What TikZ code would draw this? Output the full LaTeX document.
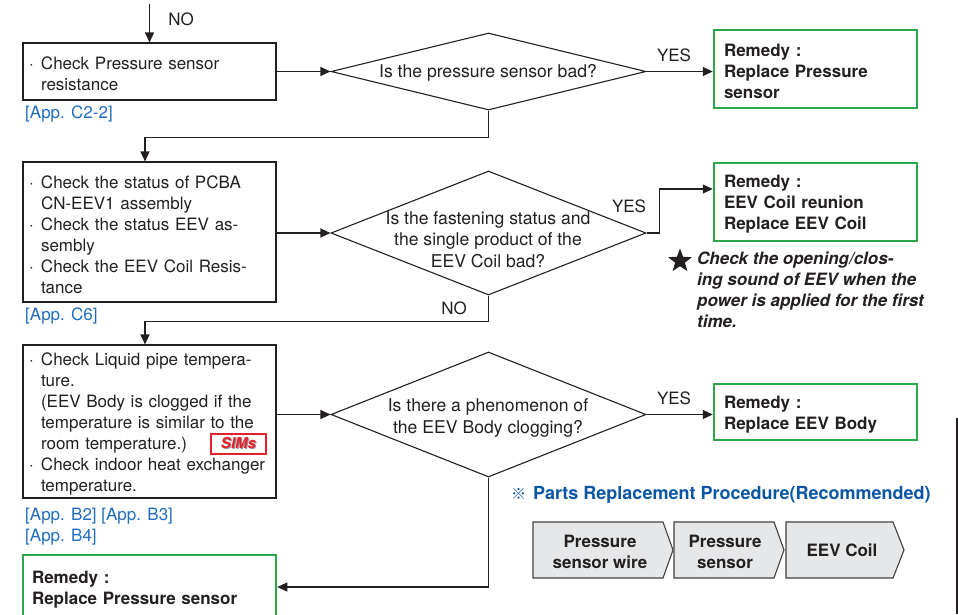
\documentclass[tikz,border=0pt]{standalone}
\usepackage{fontspec}
\setmainfont{TeX Gyre Heros}
\newfontfamily\cjkf{Noto Sans CJK SC}
\usetikzlibrary{arrows.meta,shapes.geometric}
\definecolor{ink}{HTML}{231F20}
\definecolor{grn}{HTML}{2BA84A}
\definecolor{lnk}{HTML}{1F6DBE}
\definecolor{hdb}{HTML}{0A56A5}
\definecolor{simred}{HTML}{E3212B}
\definecolor{chev}{HTML}{E6E7E8}
\newcommand{\bl}{\makebox[12pt][l]{·}}
\newcommand{\ind}{\hspace*{12pt}}
\newcommand{\lowr}{\rule{0pt}{17.5pt}}
\begin{document}
\begin{tikzpicture}[x=1pt,y=-1pt,
  every node/.style={font=\fontsize{17}{21}\selectfont, text=ink},
  box/.style={draw=ink, line width=1.1pt, rectangle, inner xsep=6pt, inner ysep=0pt, text width=241pt, align=left, execute at begin node=\lowr},
  remedy/.style={draw=grn, line width=2.5pt, rectangle, inner xsep=10pt, inner ysep=0pt, text width=183pt, align=left, font=\fontsize{17}{21}\selectfont\bfseries, execute at begin node=\lowr},
  dia/.style={draw=ink, line width=1.1pt, diamond, minimum width=315pt, inner sep=0pt},
  qtext/.style={align=center, inner sep=0pt, font=\fontsize{17.6}{21.5}\selectfont},
  app/.style={text=lnk, anchor=west, inner sep=0pt, align=left},
  lbl/.style={inner sep=0pt},
  arr/.style={draw=ink, line width=1.1pt, -{Triangle[length=10pt,width=9pt]}},
  chevshape/.style={fill=chev, draw=ink!85, line width=1.1pt},
  chevtext/.style={align=center, inner sep=0pt, font=\fontsize{17}{21}\selectfont\bfseries}
]
\useasboundingbox (0,0) rectangle (958,614);

% boxes
\coordinate (top) at (149.5,4);
\node[box, minimum height=57pt] (b1) at (149.5,71.5) {\bl Check Pressure sensor\\ \ind resistance};
\node[box, minimum height=140pt] (b2) at (149.5,232) {\bl Check the status of PCBA\\ \ind CN-EEV1 assembly\\ \bl Check the status EEV as-\\ \ind sembly\\ \bl Check the EEV Coil Resis-\\ \ind tance};
\node[box, minimum height=153pt] (b3) at (149.5,421.5) {\bl Check Liquid pipe tempera-\\ \ind ture.\\ \ind (EEV Body is clogged if the\\ \ind temperature is similar to the\\ \ind room temperature.)\\ \bl Check indoor heat exchanger\\ \ind temperature.};

\node[draw=simred, line width=1.2pt, minimum width=55pt, minimum height=20pt, inner sep=0pt, font=\fontsize{15}{15}\selectfont\bfseries\itshape, text=simred] (sims) at (238.5,444) {{\color{black!40}\rlap{\raisebox{-1pt}{\hspace{1pt}SIMs}}}SIMs};

% app refs
\node[app] (a1) at (25,114) {[App. C2-2]};
\node[app] (a2) at (25,316) {[App. C6]};
\node[app] (a3) at (25,526.5) {[App. B2] [App. B3]\\ {[App. B4]}};

% diamonds
\node[dia, minimum height=77pt] (d1) at (488.5,71.5) {};
\node[qtext] (q1) at (488,73) {Is the pressure sensor bad?};
\node[dia, minimum height=124pt] (d2) at (488.5,233) {};
\node[qtext] (q2) at (488,239.5) {Is the fastening status and\\ the single product of the\\ EEV Coil bad?};
\node[dia, minimum height=125pt] (d3) at (488.5,414.5) {};
\node[qtext] (q3) at (488,418) {Is there a phenomenon of\\ the EEV Body clogging?};

% remedies
\node[remedy, minimum height=78pt] (g1) at (815.5,69) {Remedy :\\ Replace Pressure\\ sensor};
\node[remedy, minimum height=78pt] (g2) at (815.5,202) {Remedy :\\ EEV Coil reunion\\ Replace EEV Coil};
\node[remedy, minimum height=56pt] (g3) at (815.5,412) {Remedy :\\ Replace EEV Body};
\node[remedy, minimum height=64pt, inner xsep=9pt, text width=235pt] (g4) at (149.5,587) {Remedy :\\ Replace Pressure sensor};

% star note
\node[star, star points=5, star point ratio=2.4, fill=ink, inner sep=0pt, minimum size=25pt] (st) at (680,261) {};
\node[anchor=west, inner sep=0pt, align=left, font=\fontsize{17}{21}\selectfont\bfseries\itshape] (note) at (697,289.5) {Check the opening/clos-\\ ing sound of EEV when the\\ power is applied for the first\\ time.};

% labels
\node[lbl] (no1) at (181,19) {NO};
\node[lbl] (no2) at (454,308) {NO};
\node[lbl] (y1) at (674,55) {YES};
\node[lbl] (y2) at (629,206) {YES};
\node[lbl] (y3) at (674,398) {YES};

% connectors
\draw[arr] (top) -- (b1.north);
\draw[arr] (b1.east |- d1.west) -- (d1.west);
\draw[arr] (d1.east) -- (g1.west |- d1.east);
\draw[arr] (d1.south) -- ++(0,27) -| ([xshift=-4.5pt]b2.north);
\draw[arr] (b2.east |- d2.west) -- (d2.west);
\draw[arr] (d2.east) -- ++(13,0) |- ([yshift=13pt]g2.west);
\draw[arr] (d2.south) -- ++(0,26) -| ([xshift=-4.5pt]b3.north);
\draw[arr] (b3.east |- d3.west) -- (d3.west);
\draw[arr] (d3.east) -- (g3.west |- d3.east);
\draw[arr] (d3.south) |- (g4.east);

% parts replacement procedure
\node[anchor=west, inner sep=0pt, text=hdb, font=\fontsize{18}{21}\selectfont\bfseries] (hd) at (511,495) {{\cjkf\fontsize{15}{15}\selectfont ※}\hspace{7pt}Parts Replacement Procedure(Recommended)};
\draw[chevshape] (533,522) -- (663,522) -- (673,550) -- (663,578) -- (533,578) -- cycle;
\draw[chevshape] (674,522) -- (774,522) -- (784,550) -- (774,578) -- (674,578) -- cycle;
\draw[chevshape] (786,522) -- (893,522) -- (904,550) -- (893,578) -- (786,578) -- cycle;
\node[chevtext] (c1) at (600,551.5) {Pressure\\ sensor wire};
\node[chevtext] (c2) at (725,551.5) {Pressure\\ sensor};
\node[chevtext] (c3) at (842,550.5) {EEV Coil};

% page edge line
\draw[line width=1.5pt, draw=ink] (957,418) -- (957,614);
\end{tikzpicture}
\end{document}
